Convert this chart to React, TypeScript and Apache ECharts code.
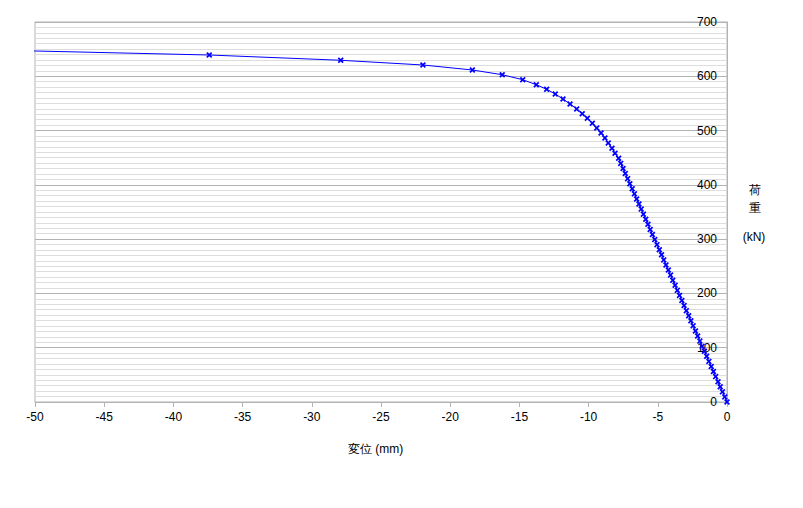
import React, { useEffect, useRef } from "react";
import * as echarts from "echarts";

// Displacement (mm) and load (kN)
const displacement = [
  0, -0.16, -0.33, -0.49, -0.65, -0.82, -0.98, -1.14, -1.31, -1.47,
  -1.63, -1.8, -1.96, -2.12, -2.28, -2.45, -2.61, -2.77, -2.94, -3.1,
  -3.26, -3.43, -3.59, -3.75, -3.92, -4.08, -4.24, -4.41, -4.57, -4.73,
  -4.89, -5.06, -5.22, -5.39, -5.55, -5.71, -5.87, -6.04, -6.2, -6.36,
  -6.53, -6.69, -6.85, -7.02, -7.18, -7.35, -7.51, -7.68, -7.83,
  -8.09, -8.31, -8.58, -8.82, -9.1, -9.41, -9.73, -10.09, -10.46, -10.86,
  -11.34, -11.85, -12.41, -13.03, -13.78, -14.76, -16.24, -18.4, -21.97,
  -27.91, -37.41, -52.4,
];
const load = [
  0, 9.4, 18.7, 28.1, 37.4, 46.8, 56.1, 65.5, 74.8, 84.2,
  93.5, 102.9, 112.2, 121.6, 130.9, 140.3, 149.6, 159.0, 168.3, 177.7,
  187.0, 196.4, 205.7, 215.1, 224.4, 233.8, 243.1, 252.5, 261.8, 271.2,
  280.5, 289.9, 299.2, 308.6, 317.9, 327.3, 336.6, 346.0, 355.3, 364.7,
  374.0, 383.4, 392.7, 402.1, 411.4, 420.8, 430.1, 439.5, 449.0,
  458.2, 467.4, 477.1, 486.3, 495.6, 504.8, 513.4, 522.6, 531.1, 539.8,
  549.0, 558.2, 567.4, 576.0, 584.5, 593.7, 602.9, 611.6, 620.8,
  629.5, 639.2, 648.0,
];

const xAxisTitle = "変位 (mm)";
const yAxisTitleLines = ["荷", "重"];
const yAxisUnit = "(kN)";

const FONT = "'Liberation Sans', Arial, sans-serif";
const CROSS =
  "path://M0,2 L2,0 L5,3 L8,0 L10,2 L7,5 L10,8 L8,10 L5,7 L2,10 L0,8 L3,5 Z";

export default function App() {
  const ref = useRef<HTMLDivElement>(null);

  useEffect(() => {
    if (!ref.current) return;
    const chart = echarts.init(ref.current, undefined, { renderer: "svg" });
    const data = displacement.map((d, i) => [d, load[i]]);
    chart.setOption({
      animation: false,
      backgroundColor: "#ffffff",
      textStyle: { fontFamily: FONT },
      grid: {
        left: 35,
        right: 76,
        top: 22,
        bottom: 106,
        show: true,
        borderColor: "#b3b3b3",
        borderWidth: 1,
        backgroundColor: "transparent",
      },
      xAxis: {
        type: "value",
        min: -50,
        max: 0,
        interval: 5,
        axisLine: { show: true, onZero: false, lineStyle: { color: "#b3b3b3", width: 1 } },
        axisTick: { show: true, length: 5, lineStyle: { color: "#b3b3b3" } },
        axisLabel: { color: "#000000", fontSize: 12, fontFamily: FONT, margin: 9 },
        splitLine: { show: false },
      },
      yAxis: {
        type: "value",
        position: "right",
        min: 0,
        max: 700,
        interval: 100,
        axisLine: { show: true, lineStyle: { color: "#b3b3b3", width: 1 } },
        axisTick: { show: false },
        axisLabel: {
          inside: true,
          color: "#000000",
          fontSize: 12,
          fontFamily: FONT,
          margin: 10,
        },
        splitLine: { show: true, lineStyle: { color: "#b3b3b3", width: 1 } },
        minorTick: { show: false, splitNumber: 10 },
        minorSplitLine: { show: true, lineStyle: { color: "#dddddd", width: 1 } },
      },
      series: [
        {
          type: "line",
          data,
          clip: true,
          symbol: CROSS,
          symbolSize: 6,
          showAllSymbol: true,
          lineStyle: { color: "#0000ff", width: 1 },
          itemStyle: { color: "#0000ff" },
          z: 5,
        },
      ],
      graphic: [
        {
          type: "text",
          left: 348,
          top: 443,
          style: { text: xAxisTitle, fontSize: 12, fontFamily: FONT, fill: "#000000" },
        },
        {
          type: "text",
          x: 755,
          y: 190,
          style: {
            text: yAxisTitleLines[0],
            fontSize: 12,
            fontFamily: FONT,
            fill: "#000000",
            align: "center",
            verticalAlign: "middle",
          },
        },
        {
          type: "text",
          x: 755,
          y: 208,
          style: {
            text: yAxisTitleLines[1],
            fontSize: 12,
            fontFamily: FONT,
            fill: "#000000",
            align: "center",
            verticalAlign: "middle",
          },
        },
        {
          type: "text",
          x: 754,
          y: 237,
          style: {
            text: yAxisUnit,
            fontSize: 12,
            fontFamily: FONT,
            fill: "#000000",
            align: "center",
            verticalAlign: "middle",
          },
        },
      ],
    });
    return () => chart.dispose();
  }, []);

  return (
    <div
      ref={ref}
      style={{ position: "absolute", left: 0, top: 0, width: 803, height: 508 }}
    />
  );
}
